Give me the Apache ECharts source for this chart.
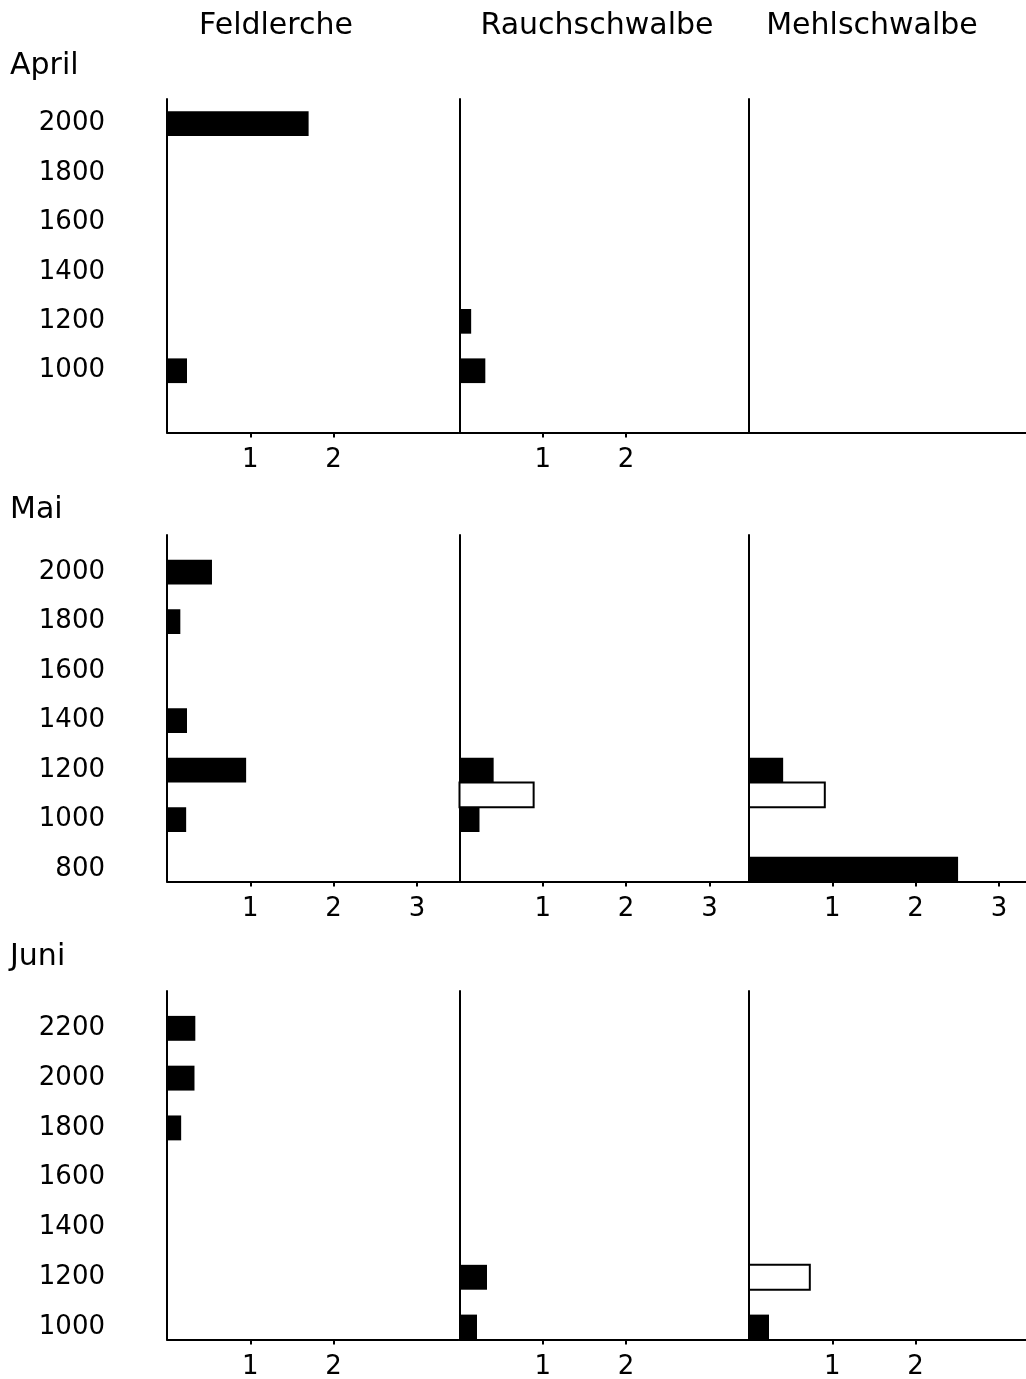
<!DOCTYPE html>
<html>
<head>
<meta charset="utf-8">
<script src="https://cdn.jsdelivr.net/npm/echarts@6/dist/echarts.min.js"></script>
<style>
  html, body { margin: 0; padding: 0; background: #fff; }
  #chart { width: 1026px; height: 1379px; }
</style>
</head>
<body>
<div id="chart"></div>
<script>
const months = ["April", "Mai", "Juni"];
const species = ["Feldlerche", "Rauchschwalbe", "Mehlschwalbe"];

// altitude labels (m) and axis extents per month
const aprilAltitudes = [2000, 1800, 1600, 1400, 1200, 1000];
const maiAltitudes = [2000, 1800, 1600, 1400, 1200, 1000, 800];
const juniAltitudes = [2200, 2000, 1800, 1600, 1400, 1200, 1000];
const altitudeRanges = [[750, 2100], [750, 2150], [950, 2350]];

// count tick labels per month, one list per species
const aprilCountTicks = [[1, 2], [1, 2], []];
const maiCountTicks = [[1, 2, 3], [1, 2, 3], [1, 2, 3]];
const juniCountTicks = [[1, 2], [1, 2], [1, 2]];

// [altitude, value] -- filled (black) bars
const aprilFeldlerche = [[2000, 1.7], [1000, 0.24]];
const aprilRauchschwalbe = [[1200, 0.14], [1000, 0.31]];
const aprilMehlschwalbe = [];
const maiFeldlerche = [[2000, 0.54], [1800, 0.16], [1400, 0.24], [1200, 0.95], [1000, 0.23]];
const maiRauchschwalbe = [[1200, 0.41], [1000, 0.24]];
const maiMehlschwalbe = [[1200, 0.41], [800, 2.51]];
const juniFeldlerche = [[2200, 0.34], [2000, 0.33], [1800, 0.17]];
const juniRauchschwalbe = [[1200, 0.33], [1000, 0.21]];
const juniMehlschwalbe = [[1000, 0.24]];

// [altitude, value] -- open (white) bars
const maiRauchschwalbeOpen = [[1100, 0.89]];
const maiMehlschwalbeOpen = [[1100, 0.91]];
const juniMehlschwalbeOpen = [[1200, 0.73]];

const altitudes = [aprilAltitudes, maiAltitudes, juniAltitudes];
const countTicks = [aprilCountTicks, maiCountTicks, juniCountTicks];
const filled = [
  [aprilFeldlerche, aprilRauchschwalbe, aprilMehlschwalbe],
  [maiFeldlerche, maiRauchschwalbe, maiMehlschwalbe],
  [juniFeldlerche, juniRauchschwalbe, juniMehlschwalbe],
];
const open = [
  [[], [], []],
  [[], maiRauchschwalbeOpen, maiMehlschwalbeOpen],
  [[], [], juniMehlschwalbeOpen],
];

const FONT = "DejaVu Sans";
const INK = "#000";
const BAND = 100; // each bar covers 100 m of altitude
const UNIT_PX = 83.3; // pixels per count unit

const rowTops = [99, 535, 991];
const rowHeights = [333.5, 346.5, 348.5];
const labelShift = [7, 8, 12];
const colLefts = [167, 459.5, 749];
const colWidths = [291.5, 289.5, 277]; // last panel is cut by the page edge

const chart = echarts.init(document.getElementById("chart"));

const barRenderer = (hollow) => (params, api) => {
  const alt = api.value(0);
  const val = api.value(1);
  const p0 = api.coord([0, alt + BAND / 2]);
  const p1 = api.coord([val, alt - BAND / 2]);
  return {
    type: "rect",
    shape: { x: p0[0], y: p0[1], width: p1[0] - p0[0], height: p1[1] - p0[1] },
    style: hollow
      ? { fill: "#fff", stroke: "#000", lineWidth: 2 }
      : { fill: "#000" },
  };
};

const grid = [], xAxis = [], yAxis = [], series = [];

months.forEach((m, r) => {
  species.forEach((s, c) => {
    const g = r * 3 + c;
    const ticks = countTicks[r][c];
    grid.push({
      left: colLefts[c],
      top: rowTops[r],
      width: colWidths[c],
      height: rowHeights[r],
      outerBoundsMode: "none",
    });
    xAxis.push({
      gridIndex: g,
      type: "value",
      min: 0,
      max: colWidths[c] / UNIT_PX,
      axisLine: { show: true, onZero: false, lineStyle: { color: "#000", width: 2 } },
      axisTick: {
        show: ticks.length > 0,
        customValues: ticks,
        length: 5,
        lineStyle: { color: "#000", width: 2 },
      },
      axisLabel: {
        show: ticks.length > 0,
        customValues: ticks,
        margin: 15,
        fontSize: 26,
        fontFamily: FONT,
        color: INK,
      },
      splitLine: { show: false },
    });
    yAxis.push({
      gridIndex: g,
      type: "value",
      min: altitudeRanges[r][0],
      max: altitudeRanges[r][1],
      axisLine: { show: true, onZero: false, lineStyle: { color: "#000", width: 2 } },
      axisTick: { show: false },
      axisLabel: {
        show: c === 0,
        customValues: altitudes[r],
        formatter: (v) => String(v),
        margin: 62,
        padding: [labelShift[r], 0, 0, 0],
        fontSize: 26,
        fontFamily: FONT,
        color: INK,
      },
      splitLine: { show: false },
    });
    series.push({
      type: "custom",
      name: m + " " + s,
      xAxisIndex: g,
      yAxisIndex: g,
      encode: { x: 1, y: 0 },
      data: filled[r][c],
      renderItem: barRenderer(false),
    });
    if (open[r][c].length) {
      series.push({
        type: "custom",
        name: m + " " + s + " (offen)",
        xAxisIndex: g,
        yAxisIndex: g,
        encode: { x: 1, y: 0 },
        data: open[r][c],
        renderItem: barRenderer(true),
      });
    }
  });
});

const headerX = [276, 597, 872];
const monthY = [66, 510, 957];

const graphic = [];
species.forEach((s, c) => {
  graphic.push({
    type: "text",
    x: headerX[c],
    y: 26,
    style: { text: s, font: `30px "${FONT}"`, fill: INK, textAlign: "center", textVerticalAlign: "middle" },
  });
});
months.forEach((m, r) => {
  graphic.push({
    type: "text",
    x: 10,
    y: monthY[r],
    style: { text: m, font: `30px "${FONT}"`, fill: INK, textAlign: "left", textVerticalAlign: "middle" },
  });
});

chart.setOption({
  animation: false,
  backgroundColor: "#fff",
  grid,
  xAxis,
  yAxis,
  series,
  graphic,
});
</script>
</body>
</html>
